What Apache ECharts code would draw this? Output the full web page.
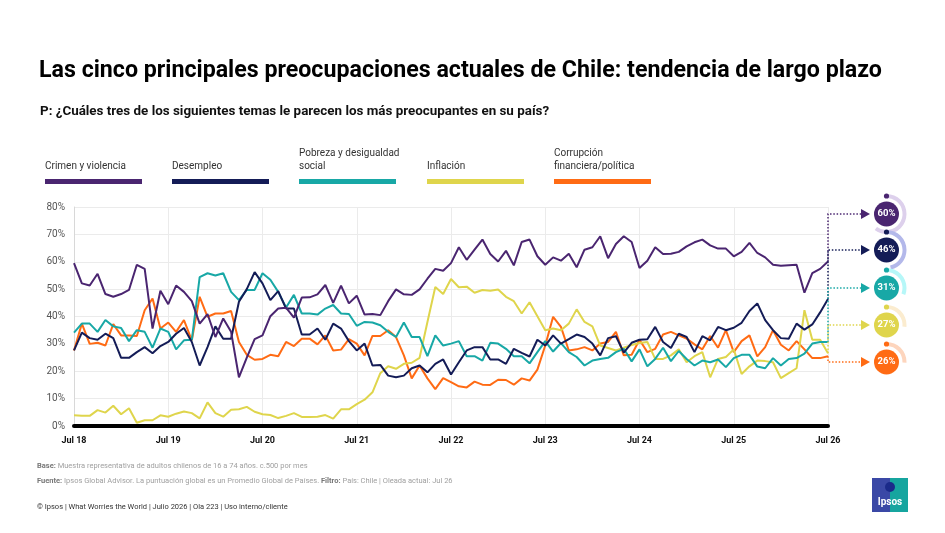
<!DOCTYPE html>
<html>
<head>
<meta charset="utf-8">
<script src="https://cdn.jsdelivr.net/npm/echarts@6/dist/echarts.min.js"></script>
<style>
    html, body { margin: 0; padding: 0; background: #fff; }
    #chart { width: 945px; height: 533px; }
</style>
</head>
<body>
<div id="chart"></div>
<script>
// meses (jul 18 .. jul 26)
var monthNames = ['Jul', 'Ago', 'Sep', 'Oct', 'Nov', 'Dic', 'Ene', 'Feb', 'Mar', 'Abr', 'May', 'Jun'];
var firstYear = 18;
var monthCount = 97;

var seriesNames = ['Crimen y violencia', 'Desempleo', 'Pobreza y desigualdad social', 'Inflación', 'Corrupción financiera/política'];
var legendLabels = ['Crimen y violencia', 'Desempleo', 'Pobreza y desigualdad\nsocial', 'Inflación', 'Corrupción\nfinanciera/política'];
var colors = ['#4a2570', '#141c57', '#18a8a6', '#dfd54c', '#ff6b14'];
var ringColors = ['#ddd0ec', '#b3b8ea', '#b6f7f8', '#fbeccf', '#fdd5bd'];

var crimen = [59.5, 52.1, 51.3, 55.6, 48.2, 47.2, 48.2, 49.7, 58.9, 57.4, 35.6, 49.4, 44.5,
    51.3, 49, 45.6, 37.4, 40.9, 32.5, 39.3, 34.4, 17.8, 25, 31.7, 33.1,
    40.1, 42.9, 43.2, 39.6, 46.9, 47, 48.1, 51.5, 45, 51.3, 44.8, 47.6,
    40.7, 40.9, 40.5, 45.6, 49.9, 48.1, 47.9, 49.9, 53.8, 57.4, 56.7, 59.5,
    65.3, 60.7, 64.4, 68.1, 62.8, 60.1, 64, 58.7, 67.2, 68.1, 62, 58.9,
    61.6, 60.4, 62.9, 58, 64.4, 65.3, 69.3, 61.3, 66.5, 69.3, 67.2, 57.7,
    60.4, 65.3, 62.8, 62.9, 63.6, 65.6, 67.1, 68.1, 66, 64.8, 64.8, 62,
    63.6, 66.9, 63.2, 61.6, 58.9, 58.5, 58.7, 58.9, 48.7, 55.8, 57.4, 60.1];
var desempleo = [27.6, 34.1, 32.1, 31.5, 33.7, 32.1, 24.9, 24.9, 27, 28.8, 26.6, 29.2, 30.7,
    33.7, 35.8, 30.7, 22.1, 28.8, 36.4, 31.9, 31.9, 45.4, 50, 56.2, 52.1,
    46, 49.3, 42.9, 42.9, 33.4, 33.4, 35.6, 31.5, 37.4, 35.6, 31, 27.6,
    30.1, 22.1, 22.3, 18.4, 17.8, 18.4, 21.1, 22.1, 19.6, 22.7, 24.3, 18.8,
    23.3, 27.6, 28.8, 28.8, 24.3, 24.3, 22.7, 28.2, 26.7, 25.4, 31.5, 29.4,
    33.1, 30.1, 31.7, 33.4, 32.5, 30.1, 25.8, 32.1, 32.8, 26.8, 30.4, 31.5,
    31.7, 36.2, 30.7, 28.5, 33.7, 32.5, 27, 32.8, 31.3, 36.2, 35, 35.9,
    37.7, 42, 44.8, 38.7, 35, 32.1, 31.9, 37.4, 35.2, 37.1, 41.5, 46.4];
var pobreza = [34.1, 37.4, 37.4, 34.4, 38.7, 36.4, 35.8, 31, 35, 34.4, 28.6, 35.6, 34.4,
    28, 31.3, 31.5, 54.4, 55.8, 55, 55.8, 49, 46, 49.7, 49.7, 55.8,
    53.4, 49, 43.3, 47.9, 41.1, 41.1, 40.7, 42.9, 44.2, 41.1, 40.9, 36.6,
    38, 37.8, 36.8, 34.4, 32.5, 37.8, 32.5, 32.5, 25.5, 33.1, 29.4, 30.1,
    31, 25.5, 25.5, 23.9, 30.4, 30.1, 28.2, 25.5, 25.5, 22.9, 27, 31,
    27.2, 30.3, 27, 25.2, 22.1, 23.9, 24.5, 24.9, 27, 28.2, 23.6, 28,
    21.8, 24.5, 28.6, 23.7, 27.4, 24.5, 22.1, 23.9, 23.3, 24.3, 21.5, 24.8,
    26, 26, 21.7, 21.1, 24.8, 22.1, 24.5, 24.8, 26.4, 30.1, 30.7, 30.7];
var inflacion = [3.9, 3.7, 3.7, 5.8, 4.9, 7.4, 4.3, 6.5, 1.2, 2.1, 2.1, 3.9, 3.4,
    4.5, 5.3, 4.7, 2.8, 8.6, 4.7, 3.4, 5.9, 6.1, 7, 5.2, 4.3,
    4, 2.9, 3.7, 4.7, 3.3, 3.3, 3.4, 4, 2.7, 6.1, 6.1, 8,
    9.6, 12.3, 19.3, 21.8, 20.9, 22.7, 23.1, 24.9, 38, 50.8, 48.2, 53.7,
    50.7, 50.9, 48.7, 49.7, 49.4, 49.9, 47.2, 45.6, 41.1, 45.2, 40.1, 35,
    35.6, 35, 37.4, 42.6, 38, 36.4, 29.4, 28.5, 27.6, 28.6, 29.6, 30.3,
    30.7, 24.5, 24.5, 25.8, 28, 23.3, 25.5, 27, 17.8, 24.5, 25.2, 28,
    19, 21.8, 23.9, 23.7, 23.3, 17.5, 19.3, 21.1, 42.3, 31.5, 31.5, 26.6];
var corrupcion = [27.6, 37.4, 30, 30.4, 29.4, 37.2, 33.1, 33.1, 32.9, 42.3, 46.6, 35.6, 37.8,
    34.4, 38.7, 31.3, 47.2, 39.9, 41.1, 41.1, 42, 30.7, 26, 24.2, 24.5,
    26, 25.5, 30.7, 29.2, 31.9, 31.9, 29.8, 33.1, 27.6, 27.9, 31.7, 30.1,
    25.8, 32.9, 32.9, 35, 32.5, 25.8, 17.4, 22.1, 17.4, 13.5, 17.5, 16,
    14.5, 14.1, 16.2, 15.1, 15, 16.9, 16.8, 15.1, 17.4, 16.6, 20.6, 29.4,
    39.9, 36.2, 27.6, 28, 28.8, 27.6, 30.1, 30.7, 34.4, 25.8, 26, 31.5,
    27, 28.2, 33.4, 34.4, 33.1, 31.9, 29.8, 28, 32.9, 28.6, 35, 27,
    31, 33.1, 25.4, 28.8, 35, 29.7, 27.6, 31, 28, 24.8, 24.8, 25.5];

// posiciones de las etiquetas finales (y en px)
var endLabelY = [214, 250, 288, 325, 362];
var legendX = [45, 172, 299, 427, 554];

var months = [];
for (var i = 0; i < monthCount; i++) {
    months.push(monthNames[i % 12] + ' ' + (firstYear + Math.floor((i + 6) / 12)));
}

var dataSets = [crimen, desempleo, pobreza, inflacion, corrupcion];
var chart = echarts.init(document.getElementById('chart'));

var series = [];
for (var s = 0; s < dataSets.length; s++) {
    series.push({
        name: seriesNames[s],
        type: 'line',
        data: dataSets[s],
        symbol: 'none',
        lineStyle: { color: colors[s], width: 2 },
        itemStyle: { color: colors[s] },
        z: 3 + (dataSets.length - s)
    });
}
// anillos de porcentaje
for (var s = 0; s < dataSets.length; s++) {
    var last = dataSets[s][dataSets[s].length - 1];
    series.push({
        type: 'pie',
        silent: true,
        center: [886.5, endLabelY[s]],
        radius: [16, 20],
        startAngle: 90,
        clockwise: true,
        label: { show: false },
        labelLine: { show: false },
        data: [
            { value: last, itemStyle: { color: ringColors[s] } },
            { value: 100 - last, itemStyle: { color: 'rgba(0,0,0,0)' } }
        ]
    });
}

var option = {
    animation: false,
    textStyle: { fontFamily: 'Roboto' },
    title: [{
        text: 'Las cinco principales preocupaciones actuales de Chile: tendencia de largo plazo',
        left: 34,
        top: 55,
        textStyle: { fontSize: 23.2, fontWeight: 'bold', color: '#000', fontFamily: 'Roboto' }
    }, {
        text: 'P: ¿Cuáles tres de los siguientes temas le parecen los más preocupantes en su país?',
        left: 35,
        top: 100,
        textStyle: { fontSize: 13.4, fontWeight: 'bold', color: '#111', fontFamily: 'Roboto' }
    }],
    grid: { left: 74, right: 117, top: 207, bottom: 107 },
    xAxis: {
        type: 'category',
        data: months,
        boundaryGap: false,
        axisLine: { lineStyle: { color: '#000', width: 4 } },
        axisTick: { show: false },
        axisLabel: {
            interval: 11,
            color: '#111',
            fontWeight: 'bold',
            fontSize: 9,
            margin: 10
        },
        splitLine: { show: true, interval: 11, lineStyle: { color: '#ebebeb' } }
    },
    yAxis: {
        type: 'value',
        min: 0,
        max: 80,
        interval: 10,
        axisLine: { show: true, lineStyle: { color: '#d8d8d8' } },
        axisTick: { show: false },
        axisLabel: { formatter: '{value}%', color: '#555', fontSize: 10, margin: 9 },
        splitLine: { lineStyle: { color: '#ebebeb' } }
    },
    series: series
};
chart.setOption(option);

// elementos graficos: leyenda, conectores, etiquetas finales, pie de pagina
var graphics = [];
for (var s = 0; s < dataSets.length; s++) {
    graphics.push({
        type: 'text',
        left: legendX[s],
        top: legendLabels[s].indexOf('\n') >= 0 ? 147 : 160,
        style: {
            text: legendLabels[s],
            fill: '#333',
            font: '10px Roboto',
            lineHeight: 13
        }
    });
    graphics.push({
        type: 'rect',
        shape: { x: legendX[s], y: 179, width: 97, height: 5 },
        style: { fill: colors[s] }
    });

    var last = dataSets[s][dataSets[s].length - 1];
    var end = chart.convertToPixel({ xAxisIndex: 0, yAxisIndex: 0 }, [months[monthCount - 1], last]);
    var ly = endLabelY[s];
    graphics.push({
        type: 'polyline',
        z: 100,
        shape: { points: [[end[0], end[1]], [end[0], ly], [861, ly]] },
        style: { stroke: colors[s], lineWidth: 1.5, lineDash: [1.5, 1.8], fill: null }
    });
    graphics.push({
        type: 'polygon',
        z: 100,
        shape: { points: [[861, ly - 5], [870, ly], [861, ly + 5]] },
        style: { fill: colors[s] }
    });
    graphics.push({
        type: 'circle',
        z: 100,
        shape: { cx: 886.5, cy: ly, r: 12.5 },
        style: { fill: colors[s] }
    });
    graphics.push({
        type: 'circle',
        z: 100,
        shape: { cx: 886.5, cy: ly - 18, r: 2.6 },
        style: { fill: colors[s] }
    });
    graphics.push({
        type: 'text',
        z: 101,
        x: 886.5,
        y: ly,
        style: {
            text: Math.round(last) + '%',
            fill: '#fff',
            font: 'bold 9.5px Roboto',
            align: 'center',
            verticalAlign: 'middle'
        }
    });
}

graphics.push({
    type: 'text',
    left: 37,
    top: 462,
    style: {
        text: '{b|Base:} Muestra representativa de adultos chilenos de 16 a 74 años. c.500 por mes',
        font: '7.5px Roboto',
        fill: '#a0a0a0',
        rich: { b: { fontWeight: 'bold', fill: '#777', fontSize: 7.5, fontFamily: 'Roboto' } }
    }
});
graphics.push({
    type: 'text',
    left: 37,
    top: 477,
    style: {
        text: '{b|Fuente:} Ipsos Global Advisor. La puntuación global es un Promedio Global de Países. {b|Filtro:} País: Chile | Oleada actual: Jul 26',
        font: '7.5px Roboto',
        fill: '#a0a0a0',
        rich: { b: { fontWeight: 'bold', fill: '#777', fontSize: 7.5, fontFamily: 'Roboto' } }
    }
});
graphics.push({
    type: 'text',
    left: 37,
    top: 503,
    style: {
        text: '© Ipsos | What Worries the World | Julio 2026 | Ola 223 | Uso interno/cliente',
        font: '7.5px Roboto',
        fill: '#333'
    }
});

// logo
graphics.push({ type: 'rect', shape: { x: 872, y: 478, width: 36, height: 34 }, style: { fill: '#3a48a6' } });
graphics.push({ type: 'rect', shape: { x: 890, y: 478, width: 18, height: 34 }, style: { fill: '#16a59f' } });
graphics.push({ type: 'circle', shape: { cx: 890, cy: 487, r: 5 }, style: { fill: '#1b2a8a' } });
graphics.push({
    type: 'text',
    x: 890,
    y: 502,
    style: { text: 'Ipsos', fill: '#fff', font: 'bold 10px Roboto', align: 'center', verticalAlign: 'middle' }
});

chart.setOption({ graphic: graphics });
</script>
</body>
</html>
